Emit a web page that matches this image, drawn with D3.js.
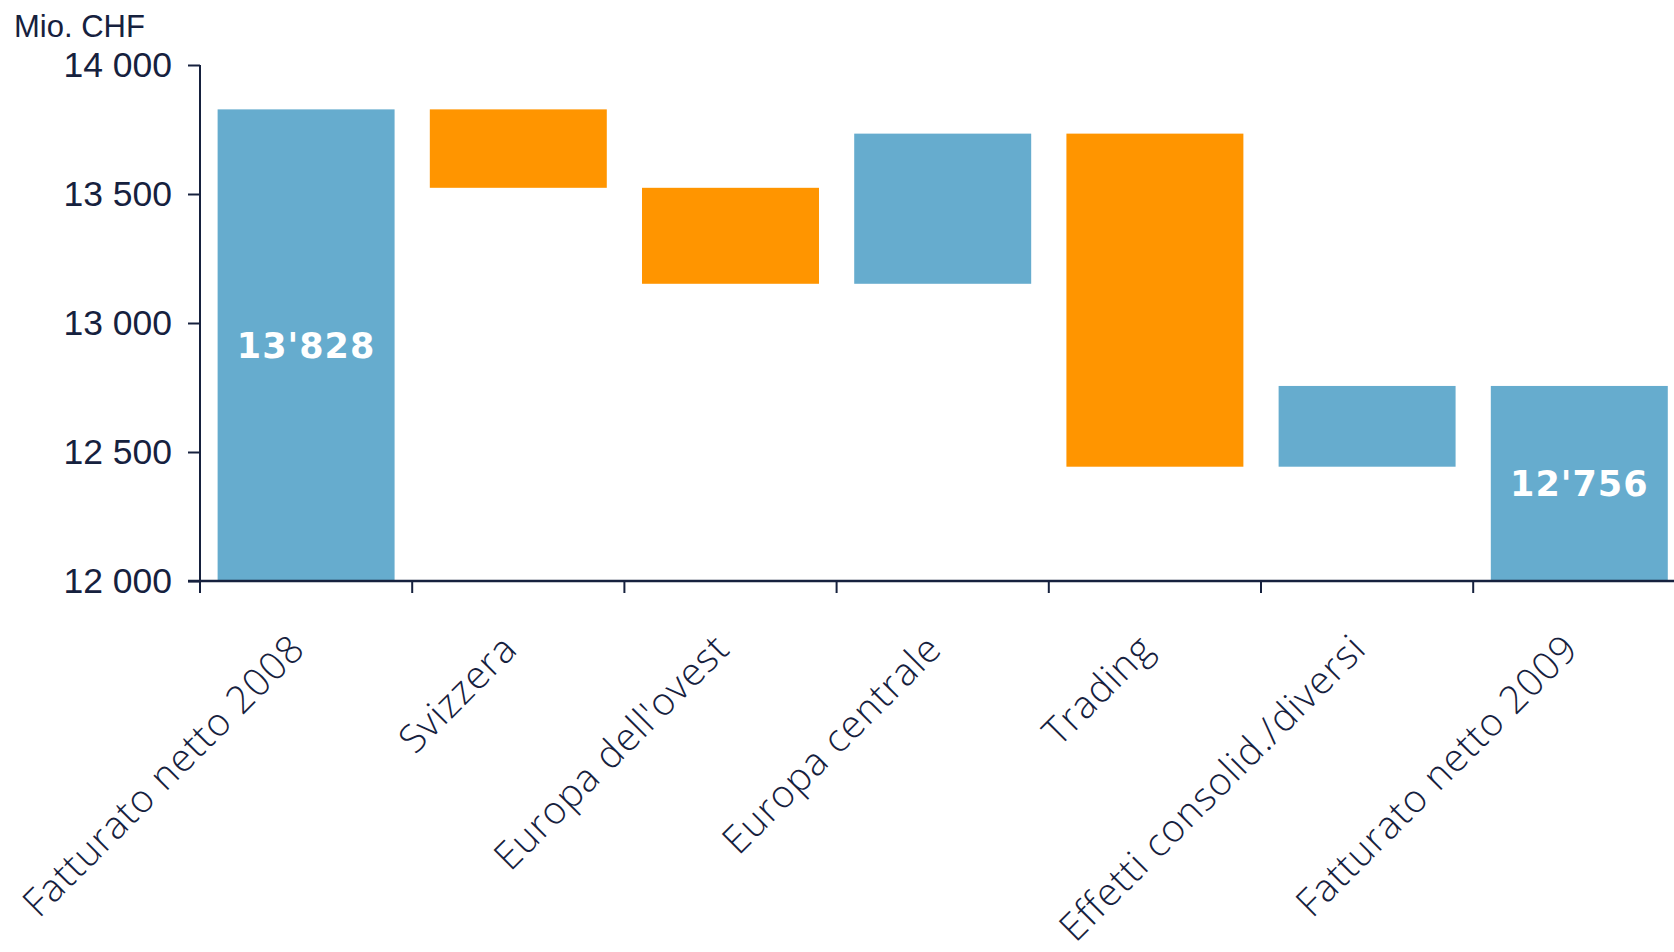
<!DOCTYPE html>
<html><head><meta charset="utf-8">
<script src="https://cdn.jsdelivr.net/npm/d3@7"></script>
<style>
html,body{margin:0;padding:0;background:#fff;}
svg{display:block;}
</style></head>
<body>
<svg id="chart" width="1674" height="952"></svg>
<script>
const categories = ["Fatturato netto 2008","Svizzera","Europa dell'ovest","Europa centrale","Trading","Effetti consolid./diversi","Fatturato netto 2009"];
const kinds = ["total","delta","delta","delta","delta","delta","total"];
const values = [13828, -304, -372, 582, -1291, 313, 12756];
const yTicks = [12000, 12500, 13000, 13500, 14000];
const unitLabel = "Mio. CHF";

const ink = "#16213e";
const blue = "#66acce";
const orange = "#ff9500";

// build waterfall segments
let run = 0;
const segs = categories.map((c, i) => {
  let lo, hi;
  if (kinds[i] === "total") { lo = 12000; hi = values[i]; run = values[i]; }
  else { const prev = run; run = prev + values[i]; lo = Math.min(prev, run); hi = Math.max(prev, run); }
  return {cat: c, kind: kinds[i], v: values[i], lo, hi};
});

const svg = d3.select("#chart");
const step = 212.2;
const x = d3.scaleBand().domain(categories).range([200, 200 + step * categories.length]).paddingInner(0.166).paddingOuter(0.083);
const y = d3.scaleLinear().domain([12000, 14000]).range([581, 65]);

// bars
svg.append("g").selectAll("rect").data(segs).join("rect")
  .attr("x", d => x(d.cat))
  .attr("width", x.bandwidth())
  .attr("y", d => y(d.hi))
  .attr("height", d => y(d.lo) - y(d.hi))
  .attr("fill", d => (d.kind === "total" || d.v > 0) ? blue : orange);

// total labels
const fmtApos = v => d3.format(",")(v).replace(/,/g, "'");
svg.append("g").selectAll("text").data(segs.filter(d => d.kind === "total")).join("text")
  .attr("x", d => x(d.cat) + x.bandwidth() / 2)
  .attr("y", d => (y(d.lo) + y(d.hi)) / 2)
  .attr("dy", "0.36em")
  .attr("text-anchor", "middle")
  .attr("fill", "#fff")
  .style("font-family", "'DejaVu Sans', sans-serif")
  .style("font-weight", "bold")
  .style("font-size", "35px")
  .style("letter-spacing", "1px")
  .text(d => fmtApos(d.v));

// y axis
const yAxis = d3.axisLeft(y).tickValues(yTicks).tickSize(12).tickPadding(16)
  .tickFormat(v => d3.format(",")(v).replace(/,/g, " "));
const gy = svg.append("g").attr("transform", "translate(200,0)").call(yAxis);
gy.select(".domain").remove();
gy.selectAll(".tick line").attr("stroke", ink).attr("stroke-width", 2);
gy.selectAll(".tick text").attr("fill", ink)
  .style("font-family", "'Liberation Sans', Arial, sans-serif").style("font-size", "35.5px");
svg.append("line").attr("x1", 200).attr("x2", 200).attr("y1", y(14000)).attr("y2", y(12000) + 12)
  .attr("stroke", ink).attr("stroke-width", 2);

// x axis line + ticks at band boundaries
const boundaries = categories.map(c => x(c) - x.step() * x.paddingInner() / 2);
svg.append("line").attr("x1", 188).attr("x2", 200 + step * categories.length).attr("y1", y(12000)).attr("y2", y(12000))
  .attr("stroke", ink).attr("stroke-width", 2.5);
svg.append("g").selectAll("line").data(boundaries).join("line")
  .attr("x1", d => d).attr("x2", d => d).attr("y1", y(12000)).attr("y2", y(12000) + 12)
  .attr("stroke", ink).attr("stroke-width", 2);

// x labels
svg.append("g").selectAll("text").data(categories).join("text")
  .attr("transform", c => `translate(${x(c) + x.bandwidth() / 2 + 1},${y(12000) + 70}) rotate(-45)`)
  .attr("text-anchor", "end")
  .attr("fill", ink)
  .style("font-family", "'Open Sans', sans-serif")
  .style("font-weight", "350")
  .style("font-size", "38.5px")
  .style("letter-spacing", "1px")
  .text(c => c);

// unit label
svg.append("text").attr("x", 14).attr("y", 37).attr("fill", ink)
  .style("font-family", "'Liberation Sans', Arial, sans-serif").style("font-size", "31px")
  .text(unitLabel);
</script>
</body></html>
